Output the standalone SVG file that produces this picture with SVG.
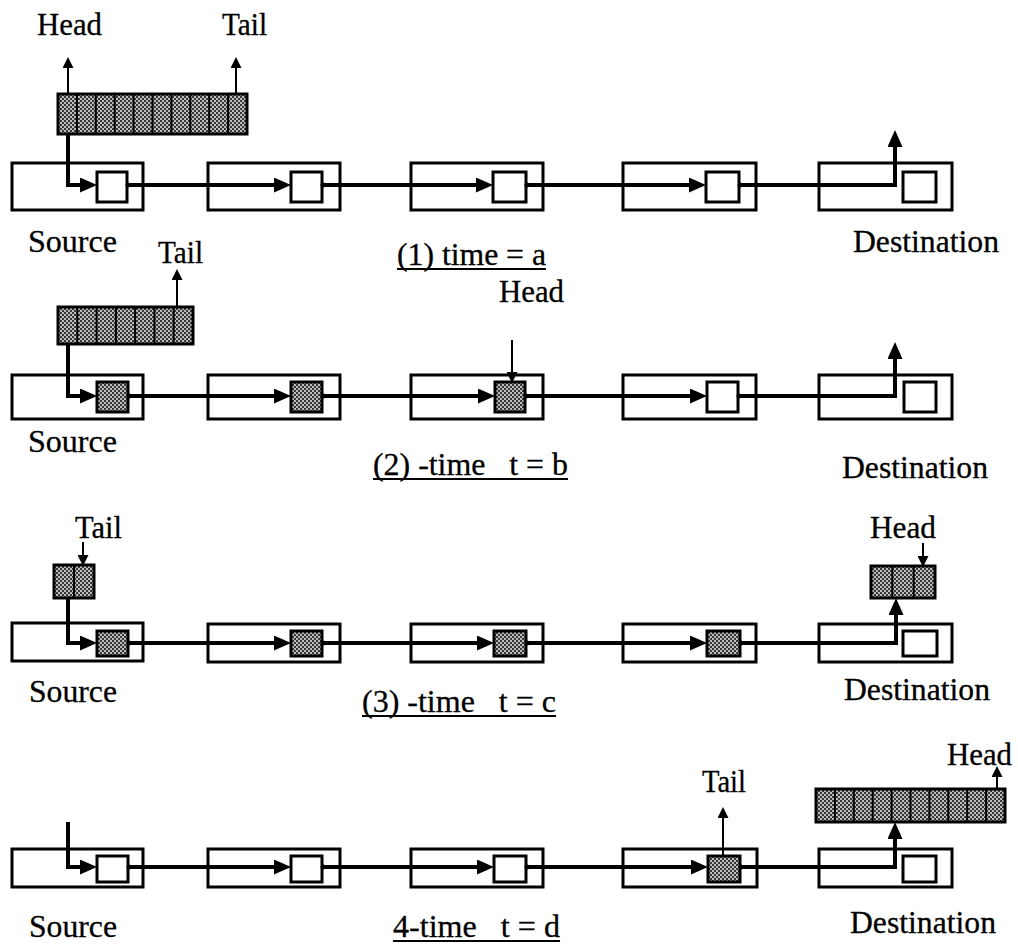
<svg xmlns="http://www.w3.org/2000/svg" width="1018" height="946" viewBox="0 0 1018 946">
<style>
.box{fill:#fff;stroke:#000;stroke-width:3}
.cell{fill:#fff;stroke:#000;stroke-width:3}
.sh{fill:url(#dots);stroke:#000;stroke-width:3}
.q{fill:url(#dots);stroke:#000;stroke-width:3}
.div{stroke:#000;stroke-width:2}
.thick{fill:none;stroke:#000;stroke-width:4;marker-end:url(#ah)}
.thin{fill:none;stroke:#000;stroke-width:2;marker-end:url(#at)}
.dot{fill:#000}
.t{font-family:"Liberation Serif","Times New Roman",serif;font-size:31px;fill:#000;stroke:#000;stroke-width:0.3;white-space:pre}
.ul{stroke:#000;stroke-width:2}
</style>
<defs>
<pattern id="dots" width="4" height="4" patternUnits="userSpaceOnUse"><rect width="4" height="4" fill="#bcbcbc"/><rect width="2" height="2" fill="#383838"/><rect x="2" y="2" width="2" height="2" fill="#383838"/></pattern>
<marker id="ah" markerUnits="userSpaceOnUse" markerWidth="17" markerHeight="15" refX="11" refY="7.5" orient="auto"><path d="M0,0 L17,7.5 L0,15 z" fill="#000"/></marker>
<marker id="at" markerUnits="userSpaceOnUse" markerWidth="11" markerHeight="11" refX="6" refY="5.5" orient="auto"><path d="M0,0 L11,5.5 L0,11 z" fill="#000"/></marker>
</defs>
<rect width="1018" height="946" fill="#fff"/>

<!-- Row 1 -->
<g id="r1-queue"><rect class="q" x="58" y="94" width="189" height="40"/><path class="div" d="M76.9,94V134M95.8,94V134M114.7,94V134M133.6,94V134M152.5,94V134M171.4,94V134M190.3,94V134M209.2,94V134M228.1,94V134"/></g>
<g id="r1-n1"><rect class="box" x="12" y="163" width="131" height="47"/><rect class="cell" x="97" y="172" width="30" height="30"/></g>
<g id="r1-n2"><rect class="box" x="208" y="163" width="132" height="47"/><rect class="cell" x="291" y="172" width="31" height="30"/></g>
<g id="r1-n3"><rect class="box" x="411" y="163" width="132" height="47"/><rect class="cell" x="493" y="172" width="33" height="30"/></g>
<g id="r1-n4"><rect class="box" x="623" y="163" width="133" height="47"/><rect class="cell" x="706" y="172" width="33" height="30"/></g>
<g id="r1-n5"><rect class="box" x="819" y="163" width="133" height="47"/><rect class="cell" x="903" y="172" width="33" height="30"/></g>

<!-- Row 2 -->
<g id="r2-queue"><rect class="q" x="58" y="307" width="135" height="37"/><path class="div" d="M77.3,307V344M96.6,307V344M115.9,307V344M135.1,307V344M154.4,307V344M173.7,307V344"/></g>
<g id="r2-n1"><rect class="box" x="12" y="375" width="131" height="44"/><rect class="sh" x="97" y="382" width="31" height="30"/></g>
<g id="r2-n2"><rect class="box" x="208" y="375" width="132" height="44"/><rect class="sh" x="291" y="382" width="31" height="30"/></g>
<g id="r2-n3"><rect class="box" x="411" y="375" width="132" height="44"/><rect class="sh" x="495" y="382" width="30" height="30"/></g>
<g id="r2-n4"><rect class="box" x="623" y="375" width="133" height="44"/><rect class="cell" x="707" y="382" width="31" height="30"/></g>
<g id="r2-n5"><rect class="box" x="819" y="375" width="133" height="44"/><rect class="cell" x="904" y="382" width="32" height="30"/></g>

<!-- Row 3 -->
<g id="r3-queue-src"><rect class="q" x="54" y="565" width="40" height="33"/><path class="div" d="M74,565V598"/></g>
<g id="r3-queue-dst"><rect class="q" x="871" y="566" width="64" height="32"/><path class="div" d="M892.3,566V598M913.7,566V598"/></g>
<g id="r3-n1"><rect class="box" x="12" y="623" width="131" height="38"/><rect class="sh" x="97" y="631" width="31" height="25"/></g>
<g id="r3-n2"><rect class="box" x="208" y="624" width="132" height="38"/><rect class="sh" x="291" y="631" width="31" height="25"/></g>
<g id="r3-n3"><rect class="box" x="411" y="624" width="132" height="38"/><rect class="sh" x="494" y="631" width="32" height="25"/></g>
<g id="r3-n4"><rect class="box" x="623" y="624" width="133" height="38"/><rect class="sh" x="707" y="631" width="33" height="25"/></g>
<g id="r3-n5"><rect class="box" x="819" y="624" width="133" height="38"/><rect class="cell" x="903" y="631" width="34" height="25"/></g>

<!-- Row 4 -->
<g id="r4-queue"><rect class="q" x="816" y="789" width="189" height="33"/><path class="div" d="M834.9,789V822M853.8,789V822M872.7,789V822M891.6,789V822M910.5,789V822M929.4,789V822M948.3,789V822M967.2,789V822M986.1,789V822"/></g>
<g id="r4-n1"><rect class="box" x="12" y="849" width="131" height="38"/><rect class="cell" x="97" y="856" width="31" height="26"/></g>
<g id="r4-n2"><rect class="box" x="208" y="849" width="132" height="38"/><rect class="cell" x="291" y="856" width="31" height="26"/></g>
<g id="r4-n3"><rect class="box" x="411" y="849" width="132" height="38"/><rect class="cell" x="494" y="856" width="32" height="26"/></g>
<g id="r4-n4"><rect class="box" x="623" y="849" width="134" height="38"/><rect class="sh" x="708" y="856" width="32" height="26"/></g>
<g id="r4-n5"><rect class="box" x="819" y="849" width="133" height="38"/><rect class="cell" x="903" y="856" width="33" height="26"/></g>

<g id="connectors">
<!-- row 1 -->
<path class="thick" d="M68,134V185H91"/>
<path class="thick" d="M127,185H285"/>
<path class="thick" d="M322,185H487"/>
<path class="thick" d="M526,185H700"/>
<path class="thick" d="M739,185H895V136"/>
<circle class="dot" cx="128" cy="185" r="2.5"/><circle class="dot" cx="323" cy="185" r="2.5"/><circle class="dot" cx="527" cy="185" r="2.5"/><circle class="dot" cx="740" cy="185" r="2.5"/>
<path class="thin" d="M68,94V62"/>
<path class="thin" d="M236,94V62"/>
<!-- row 2 -->
<path class="thick" d="M68,344V396H91"/>
<path class="thick" d="M128,396H285"/>
<path class="thick" d="M322,396H489"/>
<path class="thick" d="M525,396H701"/>
<path class="thick" d="M738,396H895V348"/>
<circle class="dot" cx="129" cy="396" r="2.5"/><circle class="dot" cx="323" cy="396" r="2.5"/><circle class="dot" cx="526" cy="396" r="2.5"/><circle class="dot" cx="739" cy="396" r="2.5"/>
<path class="thin" d="M177,307V274"/>
<path class="thin" d="M512,340V378"/>
<!-- row 3 -->
<path class="thick" d="M68,598V643H91"/>
<path class="thick" d="M128,643H285"/>
<path class="thick" d="M322,643H488"/>
<path class="thick" d="M526,643H701"/>
<path class="thick" d="M740,643H896V604"/>
<circle class="dot" cx="129" cy="643" r="2.5"/><circle class="dot" cx="323" cy="643" r="2.5"/><circle class="dot" cx="527" cy="643" r="2.5"/><circle class="dot" cx="741" cy="643" r="2.5"/>
<path class="thin" d="M83,542V561"/>
<path class="thin" d="M923,543V562"/>
<!-- row 4 -->
<path class="thick" d="M68,822V867H91"/>
<path class="thick" d="M128,867H285"/>
<path class="thick" d="M322,867H488"/>
<path class="thick" d="M526,867H702"/>
<path class="thick" d="M740,867H895V828"/>
<circle class="dot" cx="129" cy="867" r="2.5"/><circle class="dot" cx="323" cy="867" r="2.5"/><circle class="dot" cx="527" cy="867" r="2.5"/><circle class="dot" cx="741" cy="867" r="2.5"/>
<path class="thin" d="M723,856V812"/>
<path class="thin" d="M997,789V771"/>
</g>

<g id="labels">
<text class="t" x="37" y="35" textLength="65" lengthAdjust="spacingAndGlyphs">Head</text>
<text class="t" x="222" y="35" textLength="45" lengthAdjust="spacingAndGlyphs">Tail</text>
<text class="t" x="28" y="252" textLength="89" lengthAdjust="spacingAndGlyphs">Source</text>
<text class="t" x="397" y="265" textLength="149" lengthAdjust="spacingAndGlyphs">(1) time = a</text>
<line class="ul" x1="397" y1="269" x2="546" y2="269"/>
<text class="t" x="853" y="252" textLength="146" lengthAdjust="spacingAndGlyphs">Destination</text>

<text class="t" x="158" y="263" textLength="45" lengthAdjust="spacingAndGlyphs">Tail</text>
<text class="t" x="499" y="302" textLength="65" lengthAdjust="spacingAndGlyphs">Head</text>
<text class="t" x="28" y="452" textLength="89" lengthAdjust="spacingAndGlyphs">Source</text>
<text class="t" x="373" y="475" textLength="195" lengthAdjust="spacingAndGlyphs">(2) -time   t = b</text>
<line class="ul" x1="373" y1="479" x2="568" y2="479"/>
<text class="t" x="842" y="478" textLength="146" lengthAdjust="spacingAndGlyphs">Destination</text>

<text class="t" x="75" y="538" textLength="47" lengthAdjust="spacingAndGlyphs">Tail</text>
<text class="t" x="870" y="538" textLength="66" lengthAdjust="spacingAndGlyphs">Head</text>
<text class="t" x="29" y="702" textLength="88" lengthAdjust="spacingAndGlyphs">Source</text>
<text class="t" x="362" y="712" textLength="194" lengthAdjust="spacingAndGlyphs">(3) -time   t = c</text>
<line class="ul" x1="362" y1="716" x2="556" y2="716"/>
<text class="t" x="844" y="700" textLength="146" lengthAdjust="spacingAndGlyphs">Destination</text>

<text class="t" x="702" y="792" textLength="44" lengthAdjust="spacingAndGlyphs">Tail</text>
<text class="t" x="947" y="765" textLength="65" lengthAdjust="spacingAndGlyphs">Head</text>
<text class="t" x="29" y="937" textLength="88" lengthAdjust="spacingAndGlyphs">Source</text>
<text class="t" x="393" y="937" textLength="167" lengthAdjust="spacingAndGlyphs">4-time   t = d</text>
<line class="ul" x1="393" y1="941" x2="560" y2="941"/>
<text class="t" x="850" y="933" textLength="146" lengthAdjust="spacingAndGlyphs">Destination</text>
</g>
</svg>
